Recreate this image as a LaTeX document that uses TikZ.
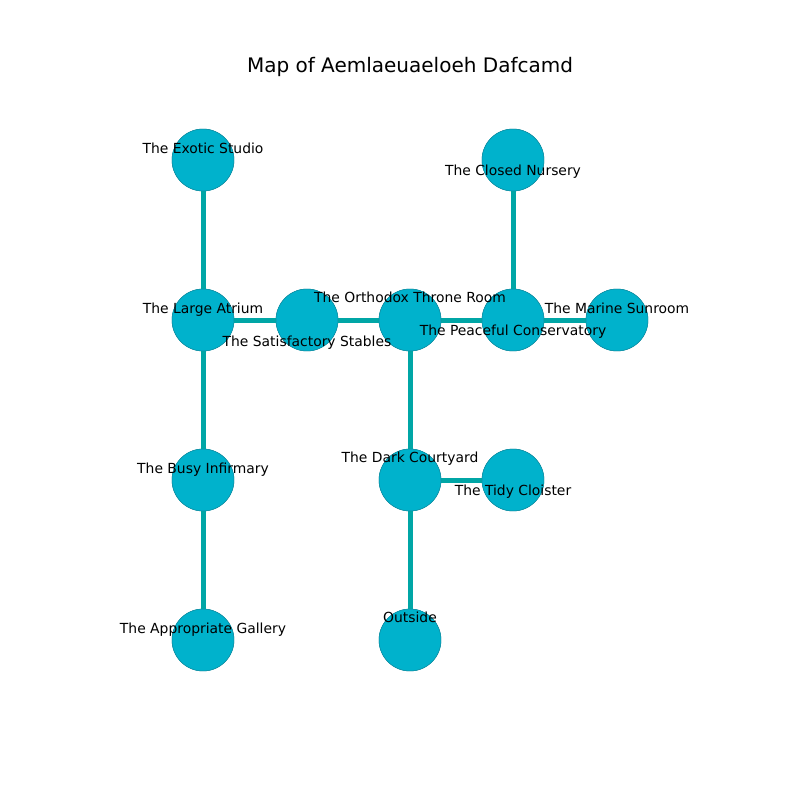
\documentclass[tikz,border=0pt]{standalone}
\usepackage{fontspec}
\setmainfont{DejaVu Sans}
\definecolor{roomfill}{RGB}{0,178,204}
\definecolor{roomedge}{RGB}{20,140,160}
\definecolor{pathcol}{RGB}{0,166,166}
\begin{document}
\begin{tikzpicture}[x=0.72pt,y=-0.72pt,
  room/.style={circle,fill=roomfill,draw=roomedge,line width=0.35pt,minimum size=44.6pt,inner sep=0pt},
  lbl/.style={font=\fontsize{10}{12}\selectfont,inner sep=0pt,anchor=center,text height=7.3pt,text depth=1.6pt,yshift=-1.4pt},
  path/.style={draw=pathcol,line width=3.6pt}]
\useasboundingbox (0,0) rectangle (800,800);
\node[font=\fontsize{14.4}{16}\selectfont] (title) at (410,67) {Map of Aemlaeuaeloeh Dafcamd};
\node[room] (exotic) at (203,160) {};
\node[room] (atrium) at (203,320) {};
\node[room] (stables) at (307,320) {};
\node[room] (throne) at (410,320) {};
\node[room] (conserv) at (513,320) {};
\node[room] (nursery) at (513,160) {};
\node[room] (sunroom) at (617,320) {};
\node[room] (infirm) at (203,480) {};
\node[room] (gallery) at (203,640) {};
\node[room] (court) at (410,480) {};
\node[room] (tidy) at (513,480) {};
\node[room] (outside) at (410,640) {};
% edges, then circles redrawn on top
\path[path] (exotic) -- (atrium);
\path[path] (atrium) -- (stables);
\path[path] (stables) -- (throne);
\path[path] (throne) -- (conserv);
\path[path] (conserv) -- (sunroom);
\path[path] (conserv) -- (nursery);
\path[path] (atrium) -- (infirm);
\path[path] (infirm) -- (gallery);
\path[path] (throne) -- (court);
\path[path] (court) -- (tidy);
\path[path] (court) -- (outside);
\foreach \p in {exotic,atrium,stables,throne,conserv,nursery,sunroom,infirm,gallery,court,tidy,outside}
  \node[room] at (\p) {};
\node[lbl] (l1) at (203,148) {The Exotic Studio};
\node[lbl] (l2) at (203,308) {The Large Atrium};
\node[lbl] (l3) at (307,341) {The Satisfactory Stables};
\node[lbl] (l4) at (410,297) {The Orthodox Throne Room};
\node[lbl] (l5) at (513,330) {The Peaceful Conservatory};
\node[lbl] (l6) at (513,170) {The Closed Nursery};
\node[lbl] (l7) at (617,308) {The Marine Sunroom};
\node[lbl] (l8) at (203,468) {The Busy Infirmary};
\node[lbl] (l9) at (203,628) {The Appropriate Gallery};
\node[lbl] (l10) at (410,457) {The Dark Courtyard};
\node[lbl] (l11) at (513,490) {The Tidy Cloister};
\node[lbl] (l12) at (410,617) {Outside};
\end{tikzpicture}
\end{document}
